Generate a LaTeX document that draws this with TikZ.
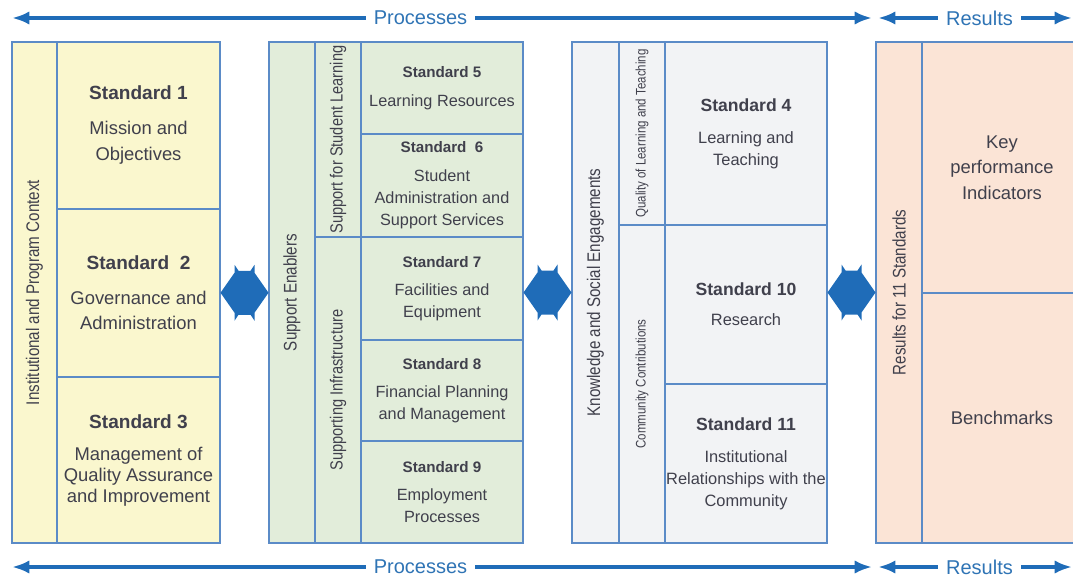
\documentclass[tikz,border=0pt]{standalone}
\usepackage{fontspec}
\setmainfont{Liberation Sans}
\newfontfamily\narrowfont[FakeStretch=0.83]{Liberation Sans}
\usepackage{tikz}
\usetikzlibrary{
  calc,
  positioning,
  arrows.meta,
  fit
}
\definecolor{frame}{HTML}{5B8BC7}
\definecolor{ink}{HTML}{40404C}
\definecolor{flowblue}{HTML}{1F6CB8}
\definecolor{labelblue}{HTML}{2F74B5}
\definecolor{yellowfill}{HTML}{FAF7CE}
\definecolor{greenfill}{HTML}{E2EDDA}
\definecolor{grayfill}{HTML}{F2F3F5}
\definecolor{peachfill}{HTML}{FBE4D6}
\tikzset{>=latex}
\newcommand{\stdhead}[2]{{\fontsize{#1}{#1}\selectfont\bfseries Standard #2}}
\newcommand{\bodyfont}[2]{\fontsize{#1}{#2}\selectfont}
\newcommand{\twoway}[1]{\fill[flowblue, shift={(#1)}] (-24,0) -- (-10,-20) -- (-10,-28) -- (-6,-22) -- (6,-22) -- (10,-28) -- (10,-20) -- (24,0) -- (10,20) -- (10,28) -- (6,22) -- (-6,22) -- (-10,28) -- (-10,20) -- cycle;}

\begin{document}
\begin{tikzpicture}[x=0.75pt, y=-0.75pt,
  cell/.style = {draw=frame, line width=1pt, inner sep=0pt},
  celltext/.style = {align=center, text=ink, inner sep=0pt},
  sidelabel/.style = {rotate=90, text=ink, inner sep=0pt, font=\narrowfont\fontsize{13.7}{16}\selectfont},
  sublabel/.style = {rotate=90, text=ink, inner sep=0pt, font=\narrowfont\fontsize{13.2}{15}\selectfont},
  smalllabel/.style = {rotate=90, text=ink, inner sep=0pt, font=\narrowfont\fontsize{10.4}{12}\selectfont},
  flow/.style = {draw=flowblue, line width=3pt, {Latex[length=13pt,width=10pt]}-{Latex[length=13pt,width=10pt]}},
  flowlabel/.style = {fill=white, text=labelblue, font=\fontsize{15}{16}\selectfont, inner xsep=6pt, inner ysep=2pt}]
				\useasboundingbox (0,0) rectangle (1073,577);
				\clip (0,0) rectangle (1073,577);

				% institutional and program context
				\node[cell, fill=yellowfill, fit={(12,42) (57,543)}] (side1) {};
				\node[cell, fill=yellowfill, fit={(57,42) (220,209)}] (s1) {};
				\node[cell, fill=yellowfill, fit={(57,209) (220,377)}] (s2) {};
				\node[cell, fill=yellowfill, fit={(57,377) (220,543)}] (s3) {};
				\node[sidelabel] (side1-text) at (side1.center) {Institutional and Program Context};
				\node[celltext, font=\bodyfont{13.8}{19.5}] (s1-text) at (s1.center) {\stdhead{14.3}{1}\\[6.75pt] Mission and\\ Objectives};
				\node[celltext, font=\bodyfont{13.8}{18.75}] (s2-text) at (s2.center) {\stdhead{14.3}{~2}\\[7.5pt] Governance and\\ Administration};
				\node[celltext, font=\bodyfont{13.8}{15.75}] (s3-text) at (s3.center) {\stdhead{14.3}{3}\\[8.25pt] Management of\\ Quality Assurance\\ and Improvement};

				% support enablers
				\node[cell, fill=greenfill, fit={(269,42) (315,543)}] (side2) {};
				\node[cell, fill=greenfill, fit={(315,42) (361,237)}] (sub2a) {};
				\node[cell, fill=greenfill, fit={(315,237) (361,543)}] (sub2b) {};
				\node[cell, fill=greenfill, fit={(361,42) (523,134)}] (s5) {};
				\node[cell, fill=greenfill, fit={(361,134) (523,237)}] (s6) {};
				\node[cell, fill=greenfill, fit={(361,237) (523,340)}] (s7) {};
				\node[cell, fill=greenfill, fit={(361,340) (523,441)}] (s8) {};
				\node[cell, fill=greenfill, fit={(361,441) (523,543)}] (s9) {};
				\node[sidelabel] (side2-text) at (side2.center) {Support Enablers};
				\node[sublabel] (sub2a-text) at (sub2a.center) {Support for Student Learning};
				\node[sublabel] (sub2b-text) at (sub2b.center) {Supporting Infrastructure};
				\node[celltext, font=\bodyfont{12.2}{16.5}] (s5-text) at (s5.center) {\stdhead{11.4}{5}\\[5.25pt] Learning Resources};
				\node[celltext, font=\bodyfont{12.2}{16.5}] (s6-text) at (s6.center) {\stdhead{11.4}{~6}\\[5.25pt] Student\\ Administration and\\ Support Services};
				\node[celltext, font=\bodyfont{12.2}{16.5}] (s7-text) at (s7.center) {\stdhead{11.4}{7}\\[4.5pt] Facilities and\\ Equipment};
				\node[celltext, font=\bodyfont{12.2}{16.5}] (s8-text) at (s8.center) {\stdhead{11.4}{8}\\[4.5pt] Financial Planning\\ and Management};
				\node[celltext, font=\bodyfont{12.2}{16.5}] (s9-text) at (s9.center) {\stdhead{11.4}{9}\\[4.5pt] Employment\\ Processes};

				% knowledge and social engagements
				\node[cell, fill=grayfill, fit={(572,42) (619,543)}] (side3) {};
				\node[cell, fill=grayfill, fit={(619,42) (665,225)}] (sub3a) {};
				\node[cell, fill=grayfill, fit={(619,225) (665,543)}] (sub3b) {};
				\node[cell, fill=grayfill, fit={(665,42) (827,225)}] (s4) {};
				\node[cell, fill=grayfill, fit={(665,225) (827,384)}] (s10) {};
				\node[cell, fill=grayfill, fit={(665,384) (827,543)}] (s11) {};
				\node[sidelabel] (side3-text) at (side3.center) {Knowledge and Social Engagements};
				\node[smalllabel] (sub3a-text) at (sub3a.center) {Quality of Learning and Teaching};
				\node[smalllabel] (sub3b-text) at (sub3b.center) {Community Contributions};
				\node[celltext, font=\bodyfont{12.3}{16.5}] (s4-text) at (s4.center) {\stdhead{13.2}{4}\\[7.5pt] Learning and\\ Teaching};
				\node[celltext, font=\bodyfont{12.3}{16.5}] (s10-text) at (s10.center) {\stdhead{13.2}{10}\\[6pt] Research};
				\node[celltext, font=\bodyfont{12.3}{16.5}] (s11-text) at (s11.center) {\stdhead{13.2}{11}\\[7.5pt] Institutional\\ Relationships with the\\ Community};

				% results
				\node[cell, fill=peachfill, fit={(876,42) (922,543)}] (side4) {};
				\node[cell, fill=peachfill, fit={(922,42) (1082,293)}] (kpi) {};
				\node[cell, fill=peachfill, fit={(922,293) (1082,543)}] (bench) {};
				\node[sidelabel] (side4-text) at (side4.center) {Results for 11 Standards};
				\node[celltext, font=\bodyfont{13.8}{19.1}] (kpi-text) at (kpi.center) {Key\\ performance\\ Indicators};
				\node[celltext, font=\bodyfont{13.8}{19.1}] (bench-text) at (bench.center) {Benchmarks};

				% links between the groups
				\coordinate (link1) at ($(s2.east)!0.5!(side2.west)$);
				\coordinate (link2) at ($(s7.east |- side2.center)!0.5!(side3.west)$);
				\coordinate (link3) at ($(s10.east |- side3.center)!0.5!(side4.west)$);
				\twoway{link1}
				\twoway{link2}
				\twoway{link3}

				% processes and results
				\coordinate (top-l) at (12,18);
				\coordinate (top-m) at (872,18);
				\coordinate (top-n) at (878,18);
				\coordinate (top-r) at (1072,18);
				\coordinate (bot-l) at (12,567);
				\coordinate (bot-m) at (872,567);
				\coordinate (bot-n) at (878,567);
				\coordinate (bot-r) at (1072,567);
				\draw[flow] (top-l) -- node[flowlabel, pos=0.475] (proc-top) {Processes} (top-m);
				\draw[flow] (top-n) -- node[flowlabel, pos=0.523] (res-top) {Results} (top-r);
				\draw[flow] (bot-l) -- node[flowlabel, pos=0.475] (proc-bot) {Processes} (bot-m);
				\draw[flow] (bot-n) -- node[flowlabel, pos=0.523] (res-bot) {Results} (bot-r);
			\end{tikzpicture}
\end{document}
